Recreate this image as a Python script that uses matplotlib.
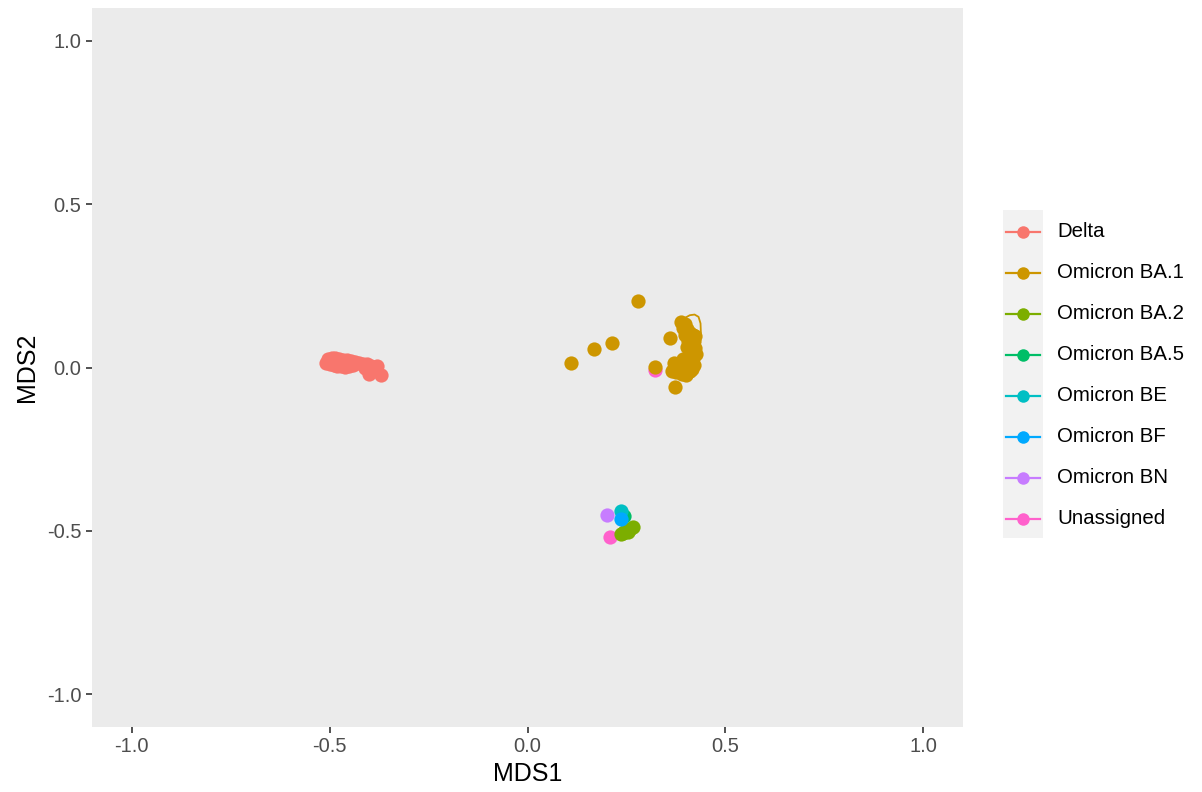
import matplotlib.pyplot as plt
from matplotlib.patches import Rectangle

plt.rcParams['font.family'] = ['Liberation Sans', 'DejaVu Sans']

# MDS coordinates per lineage
groups = ['Delta', 'Omicron BA.1', 'Omicron BA.2', 'Omicron BA.5',
          'Omicron BE', 'Omicron BF', 'Omicron BN', 'Unassigned']
colors = ['#F8766D', '#CD9600', '#7CAE00', '#00BE67',
          '#00BFC4', '#00A9FF', '#C77CFF', '#FF61CC']

delta_x = [-0.510, -0.505, -0.495, -0.485, -0.475, -0.465, -0.455, -0.445, -0.435, -0.425,
           -0.500, -0.490, -0.480, -0.470, -0.460, -0.450, -0.440, -0.415, -0.405, -0.395,
           -0.381, -0.401, -0.371, -0.410]
delta_y = [0.015, 0.025, 0.030, 0.028, 0.027, 0.024, 0.022, 0.020, 0.018, 0.015,
           0.010, 0.007, 0.005, 0.004, 0.003, 0.005, 0.008, 0.012, 0.010, 0.005,
           0.006, -0.020, -0.022, 0.000]

ba1_x = [0.111, 0.169, 0.214, 0.280, 0.323, 0.361, 0.373,
         0.388, 0.398, 0.392, 0.404, 0.410, 0.418, 0.412, 0.420, 0.415, 0.422, 0.410,
         0.418, 0.420, 0.408, 0.415, 0.400, 0.390, 0.380, 0.370, 0.365, 0.375, 0.390,
         0.405, 0.415, 0.420, 0.385, 0.398,
         0.402, 0.405, 0.397, 0.392, 0.380, 0.400, 0.410, 0.370, 0.412, 0.425, 0.424]
ba1_y = [0.015, 0.058, 0.074, 0.205, 0.003, 0.089, -0.061,
         0.138, 0.132, 0.120, 0.118, 0.105, 0.100, 0.090, 0.080, 0.070, 0.060, 0.055,
         0.045, 0.035, 0.030, 0.020, 0.015, 0.010, 0.005, 0.000, -0.010, -0.015, -0.020,
         -0.015, -0.005, 0.008, -0.005, 0.000,
         0.062, 0.082, 0.100, 0.025, -0.010, -0.022, -0.012, 0.015, 0.010, 0.040, 0.095]
# trajectory drawn for BA.1 samples
ba1_path_x = [0.392, 0.395, 0.410, 0.422, 0.432, 0.437, 0.438, 0.432]
ba1_path_y = [0.138, 0.150, 0.160, 0.162, 0.155, 0.135, 0.105, 0.085]

ba2_x = [0.237, 0.245, 0.252, 0.260, 0.267, 0.255, 0.242]
ba2_y = [-0.508, -0.504, -0.498, -0.493, -0.488, -0.502, -0.506]
ba5_x = [0.245]
ba5_y = [-0.455]
be_x = [0.235]
be_y = [-0.438]
bf_x = [0.235]
bf_y = [-0.463]
bn_x = [0.202]
bn_y = [-0.450]
unassigned_x = [0.209, 0.323]
unassigned_y = [-0.518, -0.009]

data = {
    'Delta': (delta_x, delta_y),
    'Omicron BA.1': (ba1_x, ba1_y),
    'Omicron BA.2': (ba2_x, ba2_y),
    'Omicron BA.5': (ba5_x, ba5_y),
    'Omicron BE': (be_x, be_y),
    'Omicron BF': (bf_x, bf_y),
    'Omicron BN': (bn_x, bn_y),
    'Unassigned': (unassigned_x, unassigned_y),
}
draw_order = ['Unassigned', 'Omicron BN', 'Omicron BA.2', 'Omicron BA.5',
              'Omicron BE', 'Omicron BF', 'Delta', 'Omicron BA.1']

fig = plt.figure(figsize=(12.02, 7.92), dpi=100)
W, H = 1202, 792
ax = fig.add_axes([92 / W, (H - 727) / H, 871 / W, 719 / H])
ax.set_facecolor('#EBEBEB')
for s in ax.spines.values():
    s.set_visible(False)

for z, g in enumerate(draw_order):
    c = colors[groups.index(g)]
    x, y = data[g]
    ax.scatter(x, y, s=105, color=c, linewidths=0, zorder=2 + z)
    if g == 'Omicron BA.1':
        ax.plot(ba1_path_x, ba1_path_y, color=c, lw=1.3, zorder=2 + z,
                solid_capstyle='round')

ax.set_xlim(-1.1, 1.1)
ax.set_ylim(-1.1, 1.1)
ticks = [-1.0, -0.5, 0.0, 0.5, 1.0]
ax.set_xticks(ticks)
ax.set_yticks(ticks)
ax.set_xticklabels([f'{t:.1f}' for t in ticks])
ax.set_yticklabels([f'{t:.1f}' for t in ticks])
ax.tick_params(length=4.5, width=1.2, color='#333333', labelcolor='#4D4D4D',
               labelsize=14.5, pad=3)
ax.set_xlabel('MDS1', fontsize=18, labelpad=4)
ax.set_ylabel('MDS2', fontsize=18, labelpad=6)

# legend with grey key boxes
lax = fig.add_axes([1003 / W, (H - 538) / H, 197 / W, 328 / H])
lax.set_xlim(1003, 1200)
lax.set_ylim(538, 210)
lax.axis('off')
lax.add_patch(Rectangle((1003, 210), 40, 328, color='#F2F2F2', lw=0))
for i, g in enumerate(groups):
    yy = 231.5 + i * 41
    lax.plot([1006, 1040], [yy, yy], color=colors[i], lw=1.6)
    lax.plot([1023], [yy], 'o', color=colors[i], ms=9, mew=0)
    lax.text(1057, yy, g, fontsize=14.7, va='center', ha='left', color='black')

fig.savefig('out.png', dpi=100)
